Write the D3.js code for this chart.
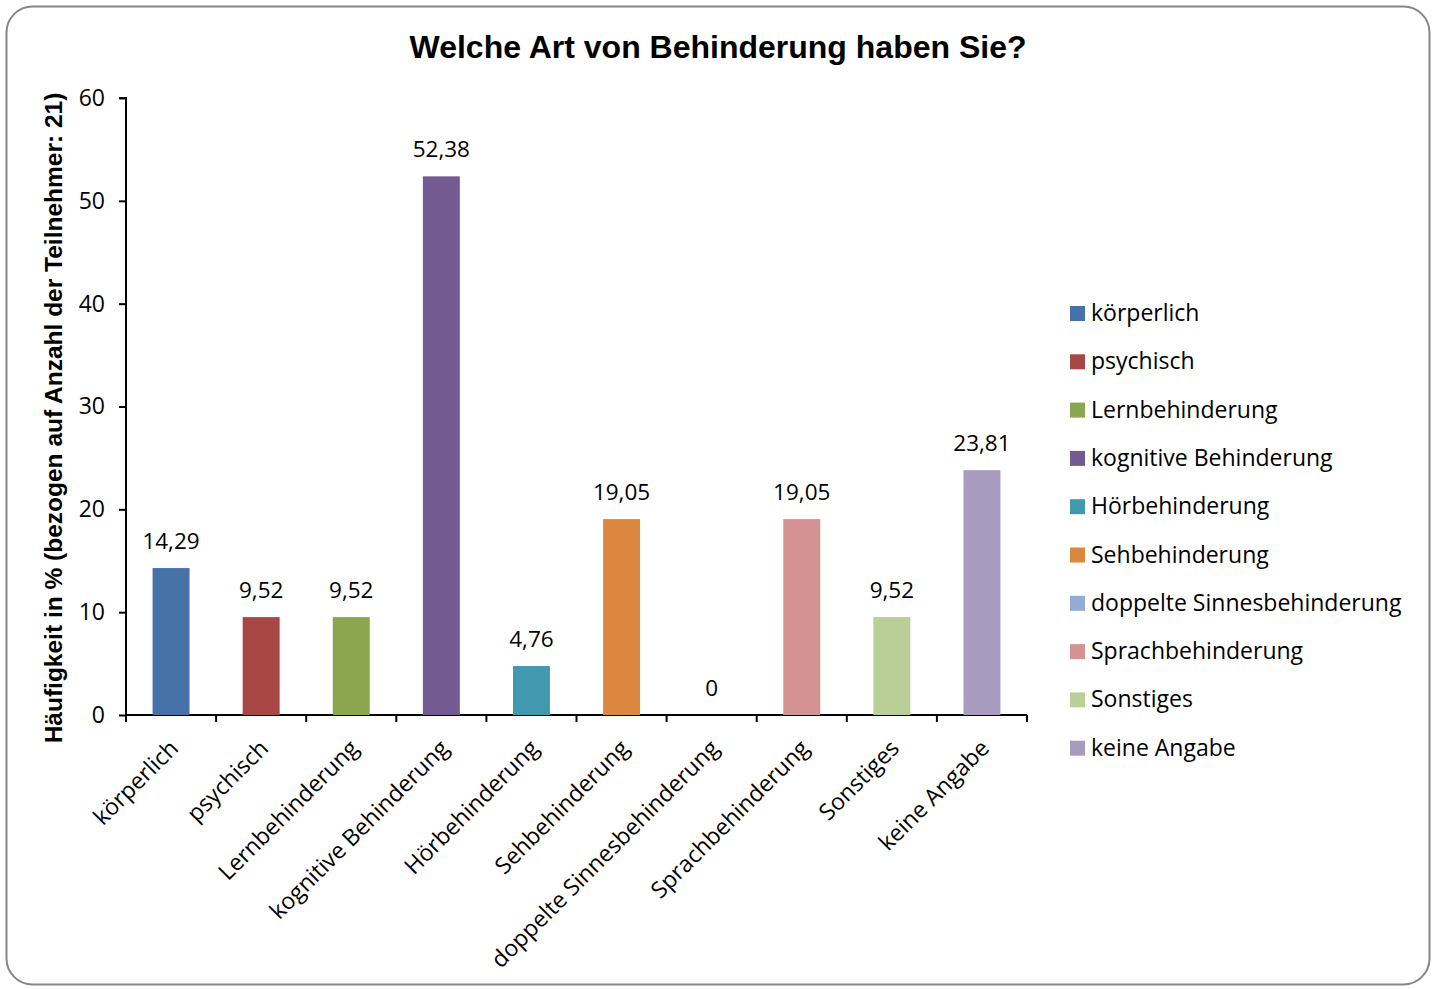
<!DOCTYPE html>
<html>
<head>
<meta charset="utf-8">
<script src="https://cdn.jsdelivr.net/npm/d3@7"></script>
<style>
  body { margin: 0; background: #fff; }
  svg { display: block; }
</style>
</head>
<body>
<svg id="chart" width="1436" height="989"></svg>
<script>
var categories = ["körperlich", "psychisch", "Lernbehinderung", "kognitive Behinderung", "Hörbehinderung",
                  "Sehbehinderung", "doppelte Sinnesbehinderung", "Sprachbehinderung", "Sonstiges", "keine Angabe"];
var values = [14.29, 9.52, 9.52, 52.38, 4.76, 19.05, 0, 19.05, 9.52, 23.81];
var colors = ["#4672a8", "#a94745", "#8aa64e", "#735a90", "#4199b0",
              "#dc8740", "#94abd3", "#d49392", "#b9cf97", "#a89bc0"];
var yTicks = [0, 10, 20, 30, 40, 50, 60];

var svg = d3.select("#chart");
var font = "'Open Sans', 'Noto Sans', sans-serif";

// outer frame
svg.append("rect")
  .attr("x", 6.5).attr("y", 6.5)
  .attr("width", 1423).attr("height", 978)
  .attr("rx", 26).attr("ry", 26)
  .attr("fill", "#fff")
  .attr("stroke", "#868686")
  .attr("stroke-width", 2);

svg.append("text")
  .attr("x", 718).attr("y", 58)
  .attr("text-anchor", "middle")
  .style("font-family", "'Liberation Sans', Arial, sans-serif")
  .style("font-weight", "bold")
  .style("font-size", "32px")
  .text("Welche Art von Behinderung haben Sie?");

var plotLeft = 126, plotRight = 1027, plotTop = 98, plotBottom = 715;

var x = d3.scaleBand().domain(categories).range([plotLeft, plotRight]).paddingInner(0.59).paddingOuter(0.295);
var y = d3.scaleLinear().domain([0, 60]).range([plotBottom, plotTop]);

// y axis
var yAxis = svg.append("g")
  .attr("transform", "translate(" + plotLeft + ",0)")
  .call(d3.axisLeft(y).tickValues(yTicks).tickSize(7).tickPadding(14));
yAxis.select(".domain").attr("stroke", "#000").attr("stroke-width", 2)
  .attr("d", "M-7," + plotTop + "H0V" + plotBottom);
yAxis.selectAll(".tick line").attr("stroke", "#000").attr("stroke-width", 2);
yAxis.selectAll(".tick text")
  .style("font-family", font).style("font-size", "23px").attr("fill", "#000");

// x axis
var xAxis = svg.append("g").attr("transform", "translate(0," + plotBottom + ")");
xAxis.append("line")
  .attr("x1", plotLeft).attr("x2", plotRight)
  .attr("stroke", "#000").attr("stroke-width", 2);
var step = (plotRight - plotLeft) / categories.length;
xAxis.selectAll("line.tk")
  .data(d3.range(categories.length + 1))
  .enter().append("line").attr("class", "tk")
  .attr("x1", function(i) { return plotLeft + i * step; })
  .attr("x2", function(i) { return plotLeft + i * step; })
  .attr("y1", 0).attr("y2", 7)
  .attr("stroke", "#000").attr("stroke-width", 2);

xAxis.selectAll("text.lbl")
  .data(categories)
  .enter().append("text").attr("class", "lbl")
  .attr("transform", function(d) {
    return "translate(" + (x(d) + x.bandwidth() / 2 + 3) + ",29) rotate(-45)";
  })
  .attr("text-anchor", "end")
  .attr("dy", "0.35em")
  .style("font-family", font).style("font-size", "23px")
  .text(function(d) { return d; });

// bars
svg.selectAll("rect.bar")
  .data(values)
  .enter().append("rect").attr("class", "bar")
  .attr("x", function(d, i) { return x(categories[i]); })
  .attr("y", function(d) { return y(d); })
  .attr("width", x.bandwidth())
  .attr("height", function(d) { return plotBottom - y(d); })
  .attr("fill", function(d, i) { return colors[i]; });

// value labels
svg.selectAll("text.val")
  .data(values)
  .enter().append("text").attr("class", "val")
  .attr("x", function(d, i) { return x(categories[i]) + x.bandwidth() / 2; })
  .attr("y", function(d) { return y(d) - 19; })
  .attr("text-anchor", "middle")
  .style("font-family", font).style("font-size", "22.5px")
  .text(function(d) { return String(d).replace(".", ","); });

// y axis title
svg.append("text")
  .attr("transform", "translate(62,418) rotate(-90)")
  .attr("text-anchor", "middle")
  .style("font-family", "'Liberation Sans', Arial, sans-serif")
  .style("font-weight", "bold")
  .style("font-size", "24.5px")
  .text("Häufigkeit in % (bezogen auf Anzahl der Teilnehmer: 21)");

// legend
var legend = svg.selectAll("g.leg")
  .data(categories)
  .enter().append("g").attr("class", "leg")
  .attr("transform", function(d, i) { return "translate(1070," + (313 + i * 48.3) + ")"; });
legend.append("rect")
  .attr("x", 0).attr("y", -7)
  .attr("width", 15).attr("height", 15)
  .attr("fill", function(d, i) { return colors[i]; });
legend.append("text")
  .attr("x", 21).attr("y", 0).attr("dy", "0.35em")
  .style("font-family", font).style("font-size", "23px")
  .text(function(d) { return d; });
</script>
</body>
</html>
